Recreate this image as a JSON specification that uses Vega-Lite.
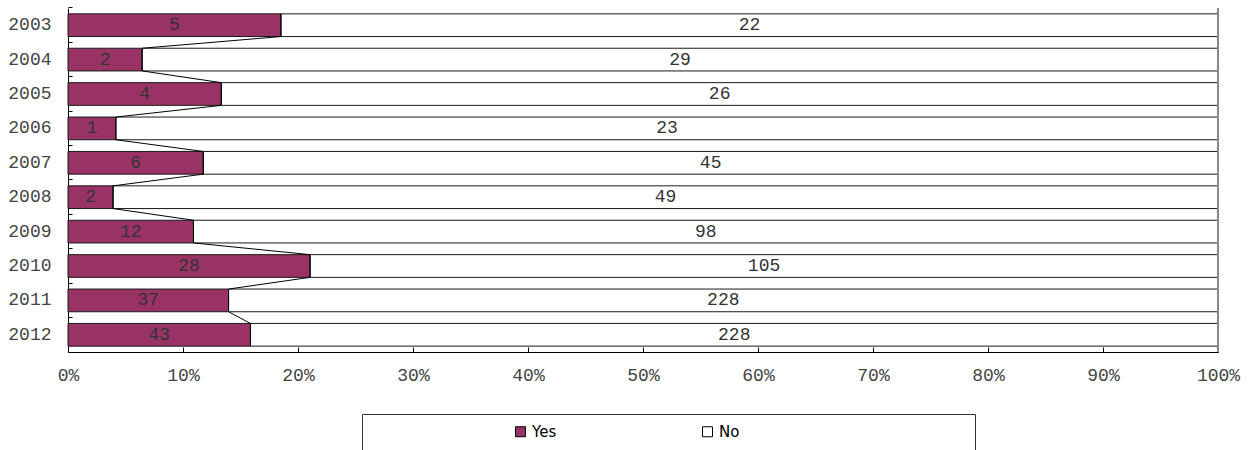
{
  "$schema": "https://vega.github.io/schema/vega-lite/v6.json",
  "width": 1150,
  "height": 344,
  "autosize": {"type": "none"},
  "padding": {"left": 68, "top": 8, "right": 36, "bottom": 98},
  "background": "white",
  "config": {"view": {"stroke": null}},
  "data": {
    "values": [
      {"year": "2003", "answer": "Yes", "count": 5},
      {"year": "2003", "answer": "No", "count": 22},
      {"year": "2004", "answer": "Yes", "count": 2},
      {"year": "2004", "answer": "No", "count": 29},
      {"year": "2005", "answer": "Yes", "count": 4},
      {"year": "2005", "answer": "No", "count": 26},
      {"year": "2006", "answer": "Yes", "count": 1},
      {"year": "2006", "answer": "No", "count": 23},
      {"year": "2007", "answer": "Yes", "count": 6},
      {"year": "2007", "answer": "No", "count": 45},
      {"year": "2008", "answer": "Yes", "count": 2},
      {"year": "2008", "answer": "No", "count": 49},
      {"year": "2009", "answer": "Yes", "count": 12},
      {"year": "2009", "answer": "No", "count": 98},
      {"year": "2010", "answer": "Yes", "count": 28},
      {"year": "2010", "answer": "No", "count": 105},
      {"year": "2011", "answer": "Yes", "count": 37},
      {"year": "2011", "answer": "No", "count": 228},
      {"year": "2012", "answer": "Yes", "count": 43},
      {"year": "2012", "answer": "No", "count": 228}
    ]
  },
  "transform": [
    {"stack": "count", "groupby": ["year"], "offset": "normalize", "sort": [{"field": "answer", "order": "descending"}], "as": ["x0", "x1"]},
    {"calculate": "(datum.x0 + datum.x1) / 2", "as": "mid"},
    {"calculate": "datum.answer === 'Yes' ? datum.x1 : datum.x0", "as": "yesEdge"}
  ],
  "layer": [
    {
      "mark": {"type": "bar", "stroke": "#1a1a1a", "strokeWidth": 1},
      "encoding": {
        "y": {
          "field": "year",
          "type": "nominal",
          "sort": "ascending",
          "scale": {"paddingInner": 0.34, "paddingOuter": 0.17},
          "axis": {
            "title": null,
            "labelFont": "Liberation Mono",
            "labelFontSize": 18,
            "labelColor": "#444",
            "tickSize": -4,
            "tickColor": "#000",
            "domainColor": "#000",
            "labelPadding": 21,
            "bandPosition": -0.2576
          }
        },
        "x": {
          "field": "x0",
          "type": "quantitative",
          "scale": {"domain": [0, 1], "nice": false},
          "axis": {
            "title": null,
            "values": [0, 0.1, 0.2, 0.3, 0.4, 0.5, 0.6, 0.7, 0.8, 0.9, 1],
            "format": ".0%",
            "labelFont": "Liberation Mono",
            "labelFontSize": 18,
            "labelColor": "#444",
            "labelFlush": false,
            "tickSize": -5,
            "tickColor": "#000",
            "domainColor": "#000",
            "labelPadding": 19,
            "grid": false
          }
        },
        "x2": {"field": "x1"},
        "color": {
          "field": "answer",
          "type": "nominal",
          "scale": {"domain": ["Yes", "No"], "range": ["#993366", "#ffffff"]},
          "legend": {
            "orient": "none",
            "legendX": 294,
            "legendY": 406,
            "direction": "horizontal",
            "title": " ",
            "titleOrient": "right",
            "titlePadding": 226,
            "padding": 10,
            "strokeColor": "#333",
            "symbolType": "square",
            "symbolSize": 100,
            "symbolStrokeColor": "#000",
            "symbolStrokeWidth": 1,
            "symbolOffset": 141,
            "labelFont": "DejaVu Sans",
            "labelFontSize": 15,
            "labelColor": "#000",
            "labelOffset": 4,
            "columnPadding": 2
          }
        }
      }
    },
    {
      "mark": {
        "type": "line",
        "color": "#000",
        "strokeWidth": 1,
        "yOffset": {"expr": "(datum.answer === 'Yes' ? -0.5 : 0.5) * bandwidth('y')"}
      },
      "encoding": {
        "y": {"field": "year", "type": "nominal", "sort": "ascending"},
        "x": {"field": "yesEdge", "type": "quantitative"},
        "order": [
          {"field": "year", "type": "ordinal"},
          {"field": "answer", "type": "nominal", "sort": "descending"}
        ]
      }
    },
    {
      "mark": {"type": "text", "font": "Liberation Mono", "fontSize": 18, "color": "#333"},
      "encoding": {
        "y": {"field": "year", "type": "nominal", "sort": "ascending"},
        "x": {"field": "mid", "type": "quantitative"},
        "text": {"field": "count", "type": "quantitative"}
      }
    },
    {
      "data": {"values": [{}]},
      "mark": {"type": "rule", "color": "#888", "strokeWidth": 2},
      "encoding": {"x": {"datum": 1}}
    }
  ]
}
